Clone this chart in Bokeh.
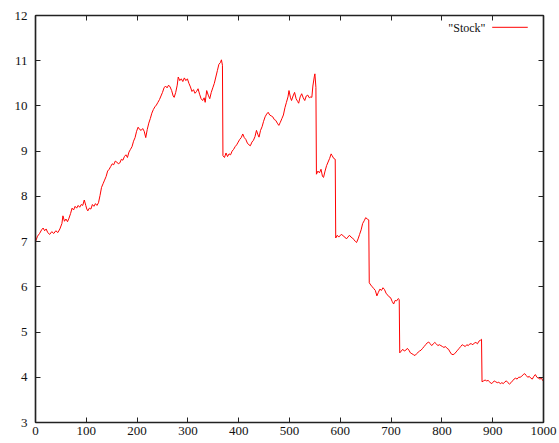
from bokeh.plotting import figure
from bokeh.models import Range1d, LinearAxis, FixedTicker, Label
from bokeh.embed import file_html
from bokeh.resources import INLINE

# Simulated stock price path: time step and price
t = [0, 4, 8, 12, 15, 18, 21, 24, 28, 32, 36, 40, 44, 48, 52, 54, 57, 60, 63, 66,
     69, 72, 75, 78, 81, 84, 87, 90, 93, 96, 99, 101, 103, 106, 109, 112, 115, 118, 121, 124,
     127, 130, 133, 136, 139, 142, 145, 148, 151, 154, 157, 160, 163, 166, 169, 172, 175, 178, 181, 184,
     187, 190, 193, 196, 199, 202, 205, 208, 211, 214, 217, 220, 223, 226, 229, 232, 235, 238, 241, 244,
     247, 250, 253, 256, 259, 262, 265, 268, 271, 273, 276, 279, 281, 284, 287, 290, 293, 296, 299, 302,
     305, 308, 311, 314, 317, 320, 323, 326, 329, 332, 334, 337, 340, 343, 346, 349, 352, 355, 358, 361,
     364, 366, 368, 369, 372, 375, 378, 381, 384, 387, 390, 393, 396, 399, 402, 405, 408, 411, 414, 417,
     420, 423, 426, 429, 432, 435, 438, 440, 443, 446, 449, 452, 455, 458, 461, 464, 467, 470, 473, 476,
     479, 482, 485, 488, 491, 494, 497, 499, 502, 504, 507, 510, 513, 516, 518, 521, 524, 527, 530, 533,
     536, 539, 542, 544, 546, 549, 550, 552, 553, 556, 559, 562, 565, 567, 570, 573, 576, 579, 582, 584,
     587, 590, 591, 594, 597, 600, 603, 606, 609, 612, 615, 618, 621, 624, 627, 630, 632, 635, 638, 641,
     644, 647, 650, 653, 656, 657, 660, 663, 666, 669, 672, 675, 678, 681, 684, 687, 690, 693, 696, 699,
     702, 705, 708, 711, 714, 716, 717, 720, 723, 726, 729, 732, 735, 738, 741, 744, 747, 750, 753, 756,
     759, 762, 765, 768, 771, 774, 777, 780, 783, 786, 789, 792, 795, 798, 801, 804, 807, 810, 813, 816,
     819, 822, 825, 828, 831, 834, 837, 840, 843, 846, 849, 852, 855, 858, 861, 864, 867, 870, 873, 876,
     878, 879, 882, 885, 888, 891, 894, 897, 900, 903, 906, 909, 912, 915, 918, 921, 924, 927, 930, 933,
     936, 939, 942, 945, 948, 951, 954, 957, 960, 963, 966, 969, 972, 975, 978, 981, 984, 987, 990, 993,
     996, 999]

price = [7.00, 7.12, 7.18, 7.26, 7.30, 7.24, 7.28, 7.20, 7.16, 7.22, 7.18, 7.24, 7.20, 7.28, 7.40, 7.57, 7.45, 7.50, 7.44, 7.52,
         7.62, 7.74, 7.70, 7.78, 7.74, 7.80, 7.76, 7.82, 7.80, 7.92, 7.80, 7.72, 7.68, 7.74, 7.72, 7.82, 7.78, 7.84, 7.80, 7.86,
         8.02, 8.20, 8.28, 8.36, 8.44, 8.56, 8.60, 8.66, 8.72, 8.70, 8.78, 8.76, 8.72, 8.74, 8.82, 8.80, 8.88, 8.92, 8.86, 8.98,
         9.04, 9.10, 9.22, 9.30, 9.44, 9.53, 9.48, 9.46, 9.50, 9.44, 9.30, 9.48, 9.62, 9.72, 9.84, 9.92, 9.98, 10.02, 10.08, 10.14,
         10.22, 10.30, 10.40, 10.44, 10.40, 10.46, 10.42, 10.34, 10.22, 10.19, 10.30, 10.46, 10.64, 10.56, 10.60, 10.54, 10.62, 10.56, 10.60, 10.50,
         10.42, 10.32, 10.36, 10.28, 10.32, 10.38, 10.26, 10.16, 10.12, 10.18, 10.08, 10.34, 10.24, 10.16, 10.30, 10.40, 10.50, 10.64, 10.78, 10.92,
         10.96, 11.02, 10.90, 8.90, 8.86, 8.96, 8.88, 8.94, 8.92, 9.00, 9.04, 9.10, 9.14, 9.20, 9.26, 9.30, 9.38, 9.30, 9.26, 9.18,
         9.14, 9.12, 9.20, 9.24, 9.32, 9.46, 9.36, 9.31, 9.46, 9.54, 9.66, 9.76, 9.82, 9.86, 9.80, 9.78, 9.76, 9.70, 9.68, 9.62,
         9.57, 9.64, 9.72, 9.80, 9.96, 10.08, 10.20, 10.34, 10.18, 10.12, 10.22, 10.30, 10.16, 10.10, 10.06, 10.20, 10.27, 10.18, 10.12, 10.22,
         10.24, 10.18, 10.20, 10.19, 10.44, 10.66, 10.71, 10.41, 8.49, 8.56, 8.52, 8.60, 8.44, 8.42, 8.56, 8.68, 8.76, 8.84, 8.94, 8.90,
         8.84, 8.82, 7.08, 7.14, 7.10, 7.14, 7.16, 7.12, 7.10, 7.06, 7.10, 7.14, 7.10, 7.08, 7.04, 7.00, 6.98, 7.06, 7.16, 7.26,
         7.40, 7.46, 7.53, 7.50, 7.48, 6.09, 6.04, 6.00, 5.96, 5.92, 5.80, 5.88, 5.95, 5.92, 5.98, 5.94, 5.86, 5.82, 5.78, 5.76,
         5.68, 5.62, 5.70, 5.69, 5.74, 5.72, 4.54, 4.58, 4.62, 4.58, 4.60, 4.64, 4.60, 4.54, 4.52, 4.50, 4.48, 4.52, 4.55, 4.58,
         4.60, 4.64, 4.68, 4.72, 4.76, 4.78, 4.74, 4.70, 4.74, 4.77, 4.74, 4.70, 4.72, 4.70, 4.68, 4.66, 4.68, 4.64, 4.62, 4.56,
         4.51, 4.50, 4.52, 4.56, 4.60, 4.64, 4.68, 4.72, 4.70, 4.68, 4.72, 4.70, 4.74, 4.74, 4.72, 4.76, 4.77, 4.74, 4.80, 4.82,
         4.84, 3.90, 3.92, 3.94, 3.92, 3.93, 3.90, 3.86, 3.88, 3.92, 3.90, 3.88, 3.89, 3.86, 3.88, 3.86, 3.90, 3.92, 3.88, 3.85,
         3.88, 3.92, 3.96, 3.98, 3.96, 4.00, 4.00, 4.02, 4.06, 4.08, 4.04, 4.00, 4.02, 3.98, 3.96, 4.02, 4.06, 4.00, 3.98, 3.96,
         3.98, 3.92]

x_ticks = [0, 100, 200, 300, 400, 500, 600, 700, 800, 900, 1000]
y_ticks = [3, 4, 5, 6, 7, 8, 9, 10, 11, 12]
series_label = '"Stock"'

FONT = "Liberation Serif"
FRAME = "#222222"
LINE_RED = "#ff0000"

p = figure(width=559, height=443, output_backend="svg", toolbar_location=None,
           x_range=Range1d(0, 1000), y_range=Range1d(3, 12),
           min_border_left=35, min_border_right=16, min_border_top=15, min_border_bottom=21)
p.background_fill_color = "white"
p.border_fill_color = "white"
p.outline_line_color = FRAME
p.outline_line_width = 1.2
p.grid.visible = False

p.line(t, price, line_color=LINE_RED, line_width=1)

# Unit ranges spanning the plot frame, used to place the key sample
p.extra_x_ranges = {"frac_x": Range1d(0, 1)}
p.extra_y_ranges = {"frac_y": Range1d(0, 1)}
p.segment(x0=[0.899], x1=[0.969], y0=[0.971], y1=[0.971],
          x_range_name="frac_x", y_range_name="frac_y",
          line_color=LINE_RED, line_width=1)

top_axis = LinearAxis()
p.add_layout(top_axis, "above")
right_axis = LinearAxis()
p.add_layout(right_axis, "right")

for ax, ticks in ((p.below[0], x_ticks), (p.left[0], y_ticks),
                  (top_axis, x_ticks), (right_axis, y_ticks)):
    ax.ticker = FixedTicker(ticks=ticks)
    ax.axis_line_color = FRAME
    ax.axis_line_width = 1.5
    ax.major_tick_in = 5
    ax.major_tick_out = 0
    ax.major_tick_line_color = FRAME
    ax.major_tick_line_width = 1
    ax.minor_tick_line_color = None
    ax.major_label_text_font = FONT
    ax.major_label_text_font_size = "13px"
    ax.major_label_text_color = "#111111"

# Mirror axes carry ticks only
for ax, ticks in ((top_axis, x_ticks), (right_axis, y_ticks)):
    ax.major_label_overrides = {v: "" for v in ticks}
    ax.major_label_text_font_size = "0px"
    ax.major_label_standoff = 0

p.below[0].major_label_standoff = 4
p.left[0].major_label_standoff = 8

# Key label in the upper right, to the left of its line sample
p.add_layout(Label(x=450, y=395, x_units="screen", y_units="screen", text=series_label,
                   text_font=FONT, text_font_size="12px", text_align="right",
                   text_baseline="middle", text_color="#111111"))

open("out.html", "w").write(file_html(p, INLINE))
